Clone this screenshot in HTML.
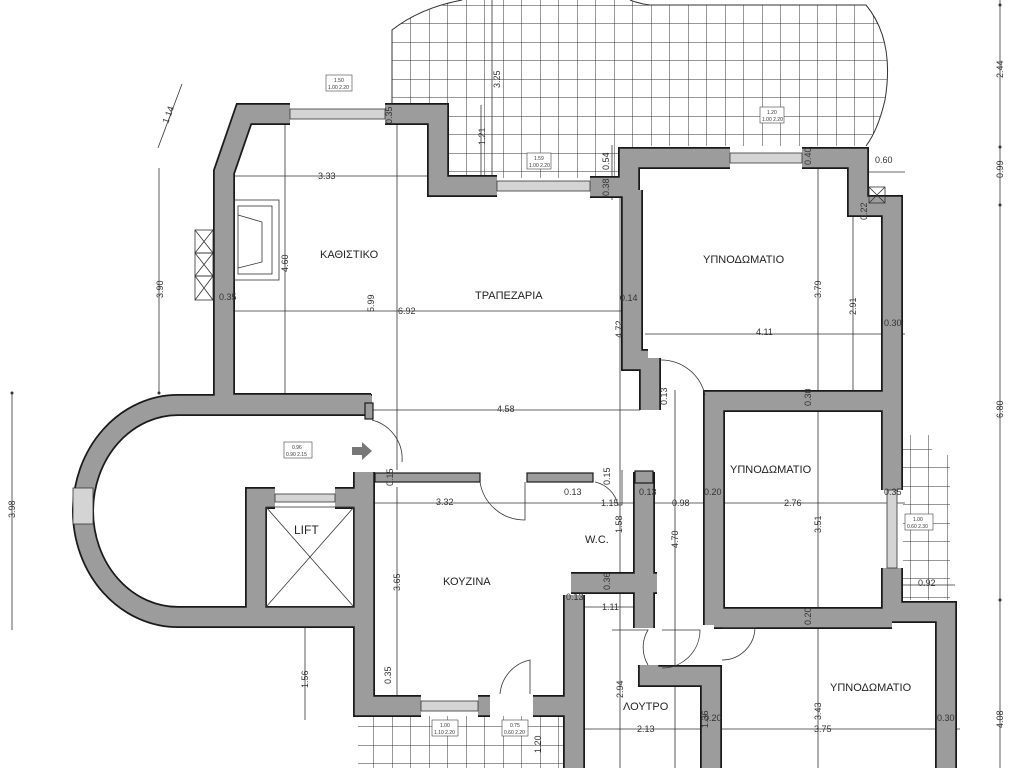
<!DOCTYPE html>
<html><head><meta charset="utf-8"><style>
html,body{margin:0;padding:0;background:#fff;width:1024px;height:768px;overflow:hidden}
svg{display:block}
text{font-family:"Liberation Sans",sans-serif;fill:#333}
.d{font-size:9px}
.r{font-size:11px;fill:#222}
</style></head><body>
<svg width="1024" height="768" viewBox="0 0 1024 768" xmlns="http://www.w3.org/2000/svg">
<defs>
<clipPath id="ct"><path d="M392 108 L392 30 Q420 8 462 0 L630 0 Q640 4 650 5 L866 5 Q895 40 885 100 Q878 130 866 146 L638 146 L638 178 L447 178 L447 105 Z"/></clipPath>
<clipPath id="cr"><path d="M903 435 L932 435 L932 455 L950 455 L950 600 L903 600 Z"/></clipPath>
<clipPath id="cb"><path d="M358 716 L565 716 L565 768 L358 768 Z"/></clipPath>
<pattern id="grid" width="18.5" height="18.5" patternUnits="userSpaceOnUse" x="392" y="5">
<path d="M0 0 L18.5 0 M0 0 L0 18.5" stroke="#333" stroke-width="1" fill="none"/></pattern>
<g id="walls" fill="none">
<path d="M371 404 L224 404 L224 172 L244 114 L290 114"/>
<path d="M385 114 L438 114 L438 186 L497 186"/>
<path d="M590 187 L629 187 L629 158 L730 158"/>
<path d="M802 158 L858 158 L858 206 L892 206 L892 490"/>
<path d="M892 568 L892 612 L946 612 L946 768"/>
<path d="M632 190 L632 360 L648 360"/>
<path d="M650 358 L650 410"/>
<path d="M892 401 L714 401 L714 625"/>
<path d="M714 618 L892 618"/>
<path d="M372 405 L178 405 A95 106 0 0 0 178 617 L364 617"/>
<path d="M256 612 L256 498 L275 498"/>
<path d="M335 498 L364 498"/>
<path d="M364 472 L364 706 L421 706"/>
<path d="M478 706 L490 706"/>
<path d="M533 706 L575 706"/>
<path d="M574 595 L574 768"/>
<path d="M644 472 L644 628"/>
<path d="M571 583 L657 583"/>
<path d="M649 665 L649 676 L711 676 L711 768"/>
</g>
</defs>

<rect x="380" y="0" width="520" height="190" fill="url(#grid)" clip-path="url(#ct)"/>
<path d="M392 108 L392 30 Q420 8 462 0 M630 0 Q640 4 650 5 L866 5 Q895 40 885 100 Q878 130 866 146" fill="none" stroke="#333"/>
<rect x="900" y="430" width="60" height="175" fill="url(#grid)" clip-path="url(#cr)"/>
<rect x="355" y="712" width="215" height="60" fill="url(#grid)" clip-path="url(#cb)"/>

<g stroke="#333" stroke-width="0.8" fill="none">
<line x1="1000" y1="0" x2="1000" y2="768"/>
<line x1="12" y1="393" x2="12" y2="630"/>
<line x1="159" y1="168" x2="159" y2="393"/>
<line x1="182" y1="84" x2="158" y2="148"/>
<line x1="305" y1="628" x2="305" y2="720"/>
<line x1="232" y1="176" x2="430" y2="176"/>
<line x1="232" y1="311" x2="640" y2="311"/>
<line x1="645" y1="334" x2="905" y2="334"/>
<line x1="372" y1="410" x2="640" y2="410"/>
<line x1="368" y1="503" x2="905" y2="503"/>
<line x1="578" y1="607" x2="648" y2="607"/>
<line x1="580" y1="729" x2="960" y2="729"/>
<line x1="903" y1="585" x2="955" y2="585"/>
<line x1="866" y1="172" x2="905" y2="172"/>
<line x1="285" y1="125" x2="285" y2="395"/>
<line x1="397" y1="125" x2="397" y2="470"/>
<line x1="397" y1="487" x2="397" y2="706"/>
<line x1="620" y1="195" x2="620" y2="768"/>
<line x1="675" y1="390" x2="675" y2="768"/>
<line x1="818" y1="163" x2="818" y2="768"/>
<line x1="853" y1="205" x2="853" y2="392"/>
<line x1="492" y1="0" x2="492" y2="178"/>
<line x1="481" y1="105" x2="481" y2="178"/>
<line x1="612" y1="145" x2="612" y2="200"/>
</g>
<g fill="#333">
<circle cx="1000" cy="5" r="1.5"/><circle cx="1000" cy="147" r="1.5"/><circle cx="1000" cy="205" r="1.5"/><circle cx="1000" cy="600" r="1.5"/>
<circle cx="12" cy="393" r="1.5"/><circle cx="159" cy="393" r="1.5"/>
</g>

<use href="#walls" stroke="#1a1a1a" stroke-width="22" stroke-linejoin="miter"/>
<use href="#walls" stroke="#9c9c9c" stroke-width="18.5" stroke-linejoin="miter"/>

<g stroke="#1a1a1a" stroke-width="1.2" fill="#9c9c9c">
<rect x="375" y="473" width="105" height="9"/>
<rect x="527" y="473" width="66" height="9"/>
<rect x="635" y="471" width="18" height="12"/>
<rect x="365" y="403" width="8" height="16"/>
</g>

<g fill="#d4d4d4" stroke="#333" stroke-width="0.8">
<rect x="290" y="109" width="95" height="10"/>
<rect x="497" y="181" width="93" height="10"/>
<rect x="730" y="153" width="72" height="10"/>
<rect x="275" y="494" width="60" height="8"/>
<rect x="421" y="701" width="57" height="10"/>
<rect x="887" y="490" width="10" height="78"/>
<rect x="73" y="488" width="20" height="36"/>
</g>

<g stroke="#333" stroke-width="0.8" fill="none">
<rect x="266" y="507" width="88" height="100"/>
<line x1="266" y1="507" x2="354" y2="607"/><line x1="354" y1="507" x2="266" y2="607"/>
<rect x="234" y="200" width="45" height="80"/>
<rect x="238" y="206" width="34" height="68"/>
<path d="M238 215 L262 222 L262 262 L238 268"/>
<rect x="195" y="230" width="18" height="23"/><path d="M195 230 L213 253 M213 230 L195 253"/>
<rect x="195" y="253" width="18" height="23"/><path d="M195 253 L213 276 M213 253 L195 276"/>
<rect x="195" y="276" width="18" height="24"/><path d="M195 276 L213 300 M213 276 L195 300"/>
<rect x="869" y="187" width="16" height="16"/><path d="M869 187 L885 203 M885 187 L869 203"/>
<path d="M372 420 A40 40 0 0 1 402 462"/>
<path d="M480 482 A45 45 0 0 0 525 520 L525 482"/>
<path d="M595 482 A30 30 0 0 1 618 505 L622 505 L622 470"/>
<path d="M660 360 A45 45 0 0 1 705 395"/>
<path d="M722 628 L755 628 A33 33 0 0 1 722 660"/>
<path d="M612 630 L648 630 A34 34 0 0 0 648 665"/>
<path d="M662 630 L700 630 A38 38 0 0 1 662 668"/>
<path d="M500 694 A38 38 0 0 1 530 660 L530 694"/>
</g>
<path d="M352 447 L362 447 L362 442 L372 451 L362 460 L362 455 L352 455 Z" fill="#777"/>

<g stroke="#444" stroke-width="0.6" fill="#fff">
<rect x="326" y="75" width="26" height="16"/><rect x="527" y="153" width="24" height="16"/>
<rect x="760" y="107" width="24" height="16"/><rect x="284" y="442" width="28" height="16"/>
<rect x="905" y="514" width="28" height="16"/><rect x="432" y="720" width="26" height="16"/>
<rect x="502" y="720" width="26" height="16"/>
</g>
<g style="font-size:5px">
<text x="334" y="82">1.50</text><text x="328" y="89">1.00 2.20</text>
<text x="534" y="160">1.59</text><text x="529" y="167">1.00 2.20</text>
<text x="767" y="114">1.20</text><text x="762" y="121">1.00 2.20</text>
<text x="292" y="449">0.96</text><text x="286" y="456">0.90 2.15</text>
<text x="913" y="521">1.00</text><text x="907" y="528">0.60 2.30</text>
<text x="440" y="727">1.00</text><text x="434" y="734">1.10 2.20</text>
<text x="510" y="727">0.75</text><text x="504" y="734">0.60 2.20</text>
</g>

<text class="r" x="320" y="258">ΚΑΘΙΣΤΙΚΟ</text>
<text class="r" x="475" y="299">ΤΡΑΠΕΖΑΡΙΑ</text>
<text class="r" x="703" y="263">ΥΠΝΟΔΩΜΑΤΙΟ</text>
<text class="r" x="730" y="473">ΥΠΝΟΔΩΜΑΤΙΟ</text>
<text class="r" x="830" y="691">ΥΠΝΟΔΩΜΑΤΙΟ</text>
<text class="r" x="443" y="585">ΚΟΥΖΙΝΑ</text>
<text class="r" x="585" y="543">W.C.</text>
<text class="r" x="623" y="710">ΛΟΥΤΡΟ</text>
<text class="r" x="294" y="534" style="font-size:12px">LIFT</text>

<g class="d">
<text x="318" y="179">3.33</text><text x="398" y="314">6.92</text><text x="219" y="300">0.35</text>
<text x="620" y="301">0.14</text><text x="756" y="335">4.11</text><text x="884" y="326">0.30</text>
<text x="497" y="412">4.58</text><text x="436" y="505">3.32</text><text x="564" y="495">0.13</text>
<text x="601" y="506">1.15</text><text x="639" y="495">0.13</text><text x="672" y="506">0.98</text>
<text x="704" y="495">0.20</text><text x="784" y="506">2.76</text><text x="884" y="495">0.35</text>
<text x="918" y="586">0.92</text><text x="602" y="610">1.11</text><text x="566" y="600">0.13</text>
<text x="637" y="732">2.13</text><text x="704" y="721">0.20</text><text x="814" y="732">3.75</text>
<text x="937" y="721">0.30</text><text x="875" y="163">0.60</text>
</g>
<g class="d">
<text transform="translate(288,272) rotate(-90)">4.60</text>
<text transform="translate(374,312) rotate(-90)">5.99</text>
<text transform="translate(500,88) rotate(-90)">3.25</text>
<text transform="translate(485,145) rotate(-90)">1.21</text>
<text transform="translate(609,170) rotate(-90)">0.54</text>
<text transform="translate(392,124) rotate(-90)">0.35</text>
<text transform="translate(609,196) rotate(-90)">0.38</text>
<text transform="translate(622,338) rotate(-90)">4.72</text>
<text transform="translate(667,405) rotate(-90)">0.13</text>
<text transform="translate(610,485) rotate(-90)">0.15</text>
<text transform="translate(622,533) rotate(-90)">1.58</text>
<text transform="translate(678,548) rotate(-90)">4.70</text>
<text transform="translate(610,590) rotate(-90)">0.36</text>
<text transform="translate(811,165) rotate(-90)">0.40</text>
<text transform="translate(821,298) rotate(-90)">3.79</text>
<text transform="translate(856,315) rotate(-90)">2.91</text>
<text transform="translate(867,220) rotate(-90)">0.22</text>
<text transform="translate(811,406) rotate(-90)">0.30</text>
<text transform="translate(821,533) rotate(-90)">3.51</text>
<text transform="translate(811,625) rotate(-90)">0.20</text>
<text transform="translate(821,720) rotate(-90)">3.43</text>
<text transform="translate(400,591) rotate(-90)">3.65</text>
<text transform="translate(393,486) rotate(-90)">0.15</text>
<text transform="translate(391,684) rotate(-90)">0.35</text>
<text transform="translate(623,698) rotate(-90)">2.94</text>
<text transform="translate(708,728) rotate(-90)">1.36</text>
<text transform="translate(541,753) rotate(-90)">1.20</text>
<text transform="translate(163,298) rotate(-90)">3.90</text>
<text transform="translate(15,518) rotate(-90)">3.98</text>
<text transform="translate(308,688) rotate(-90)">1.56</text>
<text transform="translate(1003,78) rotate(-90)">2.44</text>
<text transform="translate(1003,178) rotate(-90)">0.99</text>
<text transform="translate(1003,418) rotate(-90)">6.80</text>
<text transform="translate(1003,728) rotate(-90)">4.08</text>
<text transform="translate(168,124) rotate(-70)">1.14</text>
</g>
</svg>
</body></html>
